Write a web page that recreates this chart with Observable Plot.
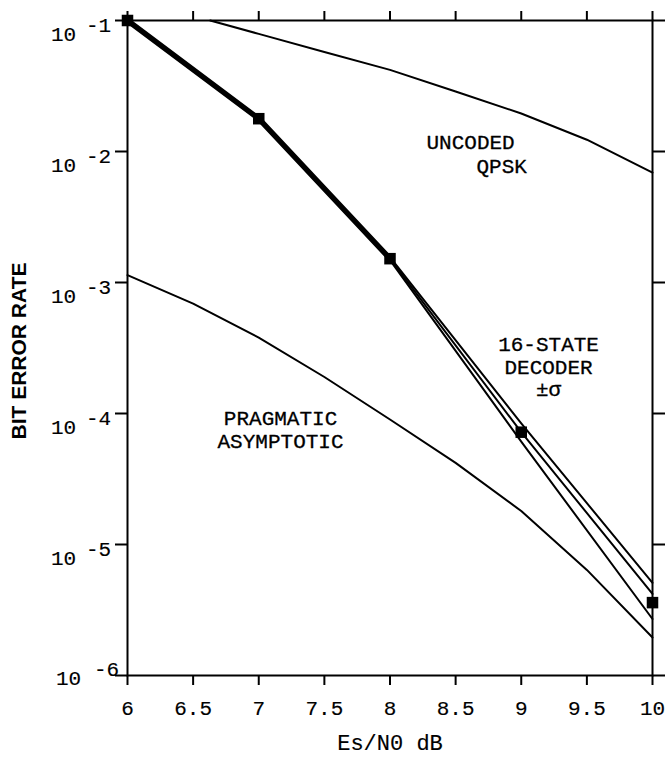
<!DOCTYPE html>
<html>
<head>
<meta charset="utf-8">
<script src="https://cdn.jsdelivr.net/npm/d3@7"></script>
<script src="https://cdn.jsdelivr.net/npm/@observablehq/plot@0.6"></script>
<style>
  html, body { margin: 0; padding: 0; background: #fff; }
  #chart svg { display: block; }
</style>
</head>
<body>
<div id="chart"></div>
<script>
// ---- data ----
const xTicks = [6, 6.5, 7, 7.5, 8, 8.5, 9, 9.5, 10];
const yExponents = [-1, -2, -3, -4, -5, -6];

// 16-state decoder (center and +/- sigma bounds)
const x16 = [6, 7, 8, 9, 10];
const ber16Upper  = [0.1, 0.0182, 1.56e-3, 8.4e-5, 5.1e-6];
const ber16Center = [0.1, 0.0178, 1.52e-3, 7.2e-5, 4.2e-6];
const ber16Lower  = [0.1, 0.0174, 1.48e-3, 6.1e-5, 2.7e-6];
const ber16Points = [0.1, 0.0178, 1.52e-3, 7.2e-5, 3.6e-6];

// Uncoded QPSK
const xUncoded = [6.63, 7, 7.5, 8, 8.5, 9, 9.5, 10];
const berUncoded = [0.1, 0.079, 0.0575, 0.042, 0.0287, 0.0195, 0.0123, 0.0069];

// Pragmatic asymptotic
const xPrag = [6, 6.5, 7, 7.5, 8, 8.5, 9, 9.5, 10];
const berPrag = [1.14e-3, 6.9e-4, 3.8e-4, 1.9e-4, 9.0e-5, 4.2e-5, 1.8e-5, 6.4e-6, 1.95e-6];

// annotations (data coordinates)
const startLabels = [
  {text: "UNCODED", x: 8.278, y: 1.185e-2},
  {text: "QPSK", x: 8.659, y: 7.85e-3}
];
const middleLabels = [
  {text: "PRAGMATIC\nASYMPTOTIC", x: 7.166, y: 7.6e-5},
  {text: "16-STATE\nDECODER\n±σ", x: 9.208, y: 2.29e-4}
];

const toRows = (xs, ys) => xs.map((x, i) => ({x, y: ys[i]}));
const rowsUpper = toRows(x16, ber16Upper);
const rowsCenter = toRows(x16, ber16Center);
const rowsLower = toRows(x16, ber16Lower);
const rowsPoints = toRows(x16, ber16Points);
const rowsUncoded = toRows(xUncoded, berUncoded);
const rowsPrag = toRows(xPrag, berPrag);

const mono = "'Liberation Mono', 'DejaVu Sans Mono', monospace";
const lineOpts = {x: "x", y: "y", stroke: "#000", strokeWidth: 2, strokeLinejoin: "round"};
const tickText = {fontSize: 21, fill: "#000", stroke: "#000", strokeWidth: 0.15, textAnchor: "middle", lineAnchor: "middle"};
const annText = {fontSize: 21, fill: "#000", stroke: "#000", strokeWidth: 0.3, lineHeight: 1.08, lineAnchor: "middle"};
const decTicks = yExponents.map(e => 10 ** e);

const chart = Plot.plot({
  width: 666,
  height: 768,
  marginLeft: 127,
  marginRight: 14,
  marginTop: 20,
  marginBottom: 93,
  style: {background: "#fff", fontFamily: mono, color: "#000"},
  x: {domain: [6, 10], label: null},
  y: {type: "log", domain: [1e-6, 1e-1], label: null},
  marks: [
    Plot.frame({stroke: "#000", strokeWidth: 2}),
    Plot.axisX({anchor: "bottom", ticks: xTicks, tickSize: 10, tickFormat: () => "", strokeWidth: 2, label: null}),
    Plot.axisX({anchor: "top", ticks: xTicks, tickSize: 10, tickFormat: () => "", strokeWidth: 2, label: null}),
    Plot.axisY({anchor: "left", ticks: decTicks, tickSize: 12, tickFormat: () => "", strokeWidth: 2, label: null}),
    Plot.axisY({anchor: "right", ticks: decTicks, tickSize: 12, tickFormat: () => "", strokeWidth: 2, label: null}),
    // x tick labels
    Plot.text(xTicks, {...tickText, x: d => d, frameAnchor: "bottom", text: d => String(d), dy: 33}),
    // y tick labels: "10" with raised exponent
    Plot.text(yExponents.filter(e => e > -6), {...tickText, y: e => 10 ** e, frameAnchor: "left", text: () => "10", dx: -64, dy: 14}),
    Plot.text(yExponents.filter(e => e > -6), {...tickText, y: e => 10 ** e, frameAnchor: "left", text: e => String(e), dx: -29, dy: 5}),
    Plot.text(yExponents.filter(e => e === -6), {...tickText, y: e => 10 ** e, frameAnchor: "left", text: () => "10", dx: -59, dy: 3}),
    Plot.text(yExponents.filter(e => e === -6), {...tickText, y: e => 10 ** e, frameAnchor: "left", text: e => String(e), dx: -21, dy: -6}),
    // axis titles
    Plot.text(["Es/N0 dB"], {...tickText, fontSize: 22, frameAnchor: "bottom", text: d => d, dy: 67}),
    Plot.text(["BIT ERROR RATE"], {frameAnchor: "left", textAnchor: "middle", lineAnchor: "middle", text: d => d, dx: -108, dy: 3, rotate: -90, fontSize: 21, fontWeight: "bold", fontFamily: "'Liberation Sans', Arial, sans-serif", fill: "#000"}),
    // curves
    Plot.line(rowsUncoded, lineOpts),
    Plot.line(rowsPrag, lineOpts),
    Plot.line(rowsCenter.filter(d => d.x <= 8), {...lineOpts, strokeWidth: 5.5}),
    Plot.line(rowsUpper, lineOpts),
    Plot.line(rowsCenter, lineOpts),
    Plot.line(rowsLower, lineOpts),
    Plot.dot(rowsPoints, {x: "x", y: "y", symbol: "square", r: 6.5, fill: "#000", stroke: "none"}),
    // annotations
    Plot.text(startLabels, {...annText, x: "x", y: "y", text: "text", textAnchor: "start"}),
    Plot.text(middleLabels, {...annText, x: "x", y: "y", text: "text", textAnchor: "middle"})
  ]
});
document.getElementById("chart").appendChild(chart);
</script>
</body>
</html>
